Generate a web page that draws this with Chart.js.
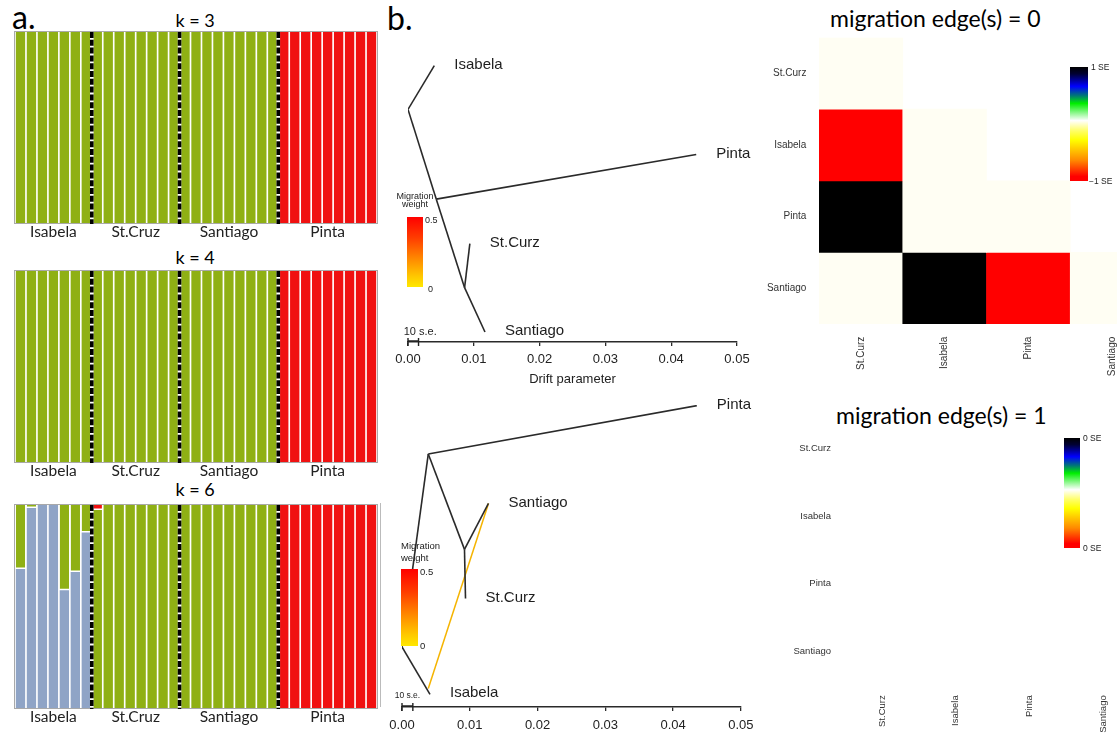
<!DOCTYPE html>
<html>
<head>
<meta charset="utf-8">
<script src="https://cdn.jsdelivr.net/npm/chart.js@4.4.1/dist/chart.umd.min.js"></script>
<style>
body{margin:0;width:1117px;height:734px;overflow:hidden;background:#fff;position:relative;font-family:Lato,sans-serif;}
canvas{position:absolute;}
.t{position:absolute;white-space:nowrap;color:#000;}
.lab{position:absolute;white-space:nowrap;font-family:'Liberation Sans',Arial,sans-serif;color:#222;}
.mig{position:absolute;background:linear-gradient(to bottom,#ff0000 0%,#ff3d00 30%,#ff8a00 60%,#ffc800 85%,#ffe800 100%);}
.se{position:absolute;background:linear-gradient(to bottom,#000000 0%,#000033 6%,#0000ff 17%,#007777 25%,#00ee00 32%,#ffffff 47%,#ffff66 56%,#ffff00 64%,#ff8800 82%,#ff0000 96%,#ff0000 100%);}
</style>
</head>
<body>

<div class="t" style="left:12px;top:1px;font-size:32px;line-height:32px;">a.</div>
<div class="t" style="left:387px;top:2px;font-size:32px;line-height:32px;">b.</div>

<div class="t" style="left:145px;width:100px;text-align:center;top:11px;font-size:18px;line-height:18px;">k = 3</div>
<div class="t" style="left:145px;width:100px;text-align:center;top:248px;font-size:18px;line-height:18px;">k = 4</div>
<div class="t" style="left:145px;width:100px;text-align:center;top:480px;font-size:18px;line-height:18px;">k = 6</div>

<canvas id="k3" width="390" height="215" style="left:0;top:28px;"></canvas>
<canvas id="k4" width="390" height="215" style="left:0;top:267px;"></canvas>
<canvas id="k6" width="390" height="227" style="left:0;top:501px;"></canvas>

<div style="position:absolute;left:380px;top:503px;width:1px;height:204px;background:#bbb;"></div>
<canvas id="tree0" width="380" height="362" style="left:380px;top:30px;"></canvas>
<canvas id="tree1" width="380" height="339" style="left:380px;top:395px;"></canvas>

<!-- migration weight keys -->
<div class="lab" style="left:390px;width:50px;text-align:center;top:192px;font-size:9px;line-height:8px;">Migration<br>weight</div>
<div class="mig" style="left:407px;top:217px;width:16px;height:70px;"></div>
<div class="lab" style="left:425px;top:215px;font-size:9px;line-height:10px;">0.5</div>
<div class="lab" style="left:428px;top:284px;font-size:9px;line-height:10px;">0</div>

<div class="lab" style="left:401px;top:540px;font-size:9.5px;line-height:11.5px;">Migration<br>weight</div>
<div class="mig" style="left:401px;top:569px;width:17px;height:77px;"></div>
<div class="lab" style="left:420px;top:567px;font-size:9.5px;line-height:10px;">0.5</div>
<div class="lab" style="left:420px;top:641px;font-size:9.5px;line-height:10px;">0</div>

<div class="t" style="left:830px;width:200px;text-align:center;top:7px;font-size:23px;line-height:22px;">migration edge(s) = 0</div>
<div class="t" style="left:836px;width:200px;text-align:center;top:404px;font-size:23px;line-height:22px;">migration edge(s) = 1</div>

<canvas id="resid0" width="414" height="365" style="left:740px;top:19px;"></canvas>
<canvas id="resid1" width="380" height="340" style="left:760px;top:395px;"></canvas>

<div class="se" style="left:1070px;top:67px;width:18px;height:114px;"></div>
<div class="lab" style="left:1091px;top:62px;font-size:8.5px;line-height:10px;">1 SE</div>
<div class="lab" style="left:1089px;top:176px;font-size:8.5px;line-height:10px;">−1 SE</div>
<div class="se" style="left:1064px;top:438px;width:16px;height:110px;"></div>
<div class="lab" style="left:1083px;top:433px;font-size:8.5px;line-height:10px;">0 SE</div>
<div class="lab" style="left:1083px;top:543px;font-size:8.5px;line-height:10px;">0 SE</div>

<script>
Chart.defaults.animation = false;
Chart.defaults.font.family = "'Liberation Sans', Arial, sans-serif";
Chart.defaults.plugins.legend.display = false;
Chart.defaults.plugins.tooltip.enabled = false;

// ---------------- DATA: structure plots ----------------

const groupNames = ["Isabela", "St.Cruz", "Santiago", "Pinta"];
const groupSizes = [7, 8, 9, 9];

const k3Green = [1,1,1,1,1,1,1, 1,1,1,1,1,1,1,1, 1,1,1,1,1,1,1,1,1, 0,0,0,0,0,0,0,0,0];
const k3Red   = [0,0,0,0,0,0,0, 0,0,0,0,0,0,0,0, 0,0,0,0,0,0,0,0,0, 1,1,1,1,1,1,1,1,1];

const k4Green = [1,1,1,1,1,1,1, 1,1,1,1,1,1,1,1, 1,1,1,1,1,1,1,1,1, 0,0,0,0,0,0,0,0,0];
const k4Red   = [0,0,0,0,0,0,0, 0,0,0,0,0,0,0,0, 0,0,0,0,0,0,0,0,0, 1,1,1,1,1,1,1,1,1];

const k6Blue  = [0.685,0.985,1,1,0.58,0.67,0.865, 0,0,0,0,0,0,0,0, 0,0,0,0,0,0,0,0,0, 0,0,0,0,0,0,0,0,0];
const k6Green = [0.315,0.015,0,0,0.42,0.33,0.135, 0.975,1,1,1,1,1,1,1, 1,1,1,1,1,1,1,1,1, 0,0,0,0,0,0,0,0,0];
const k6Red   = [0,0,0,0,0,0,0, 0.025,0,0,0,0,0,0,0, 0,0,0,0,0,0,0,0,0, 1,1,1,1,1,1,1,1,1];

// ---------------- DATA: treemix trees ----------------

const tree0Names = ["root", "Isabela", "", "Pinta", "", "St.Curz", "Santiago"];
const tree0Drift = [0.0000, 0.0040, 0.0043, 0.0438, 0.0086, 0.0094, 0.0117];
const tree0Pos   = [0.770, 0.915, 0.473, 0.621, 0.180, 0.326, 0.033];
const tree0Edges = [[0,1],[0,2],[2,3],[2,4],[4,5],[4,6]];

const tree1Names = ["root", "", "Pinta", "", "Santiago", "St.Curz", "Isabela"];
const tree1Drift = [0.0000, 0.00388, 0.0435, 0.00922, 0.01276, 0.00937, 0.00413];
const tree1Pos   = [0.199, 0.838, 0.998, 0.522, 0.674, 0.359, 0.042];
const tree1Edges = [[0,1],[1,2],[1,3],[3,4],[3,5],[0,6]];
const tree1MigFrom = [0.00388, 0.061];   // drift, position on the Isabela branch
const tree1MigTo = 4;                     // Santiago
const migColor = "#f5b400";

const driftTicks = [0, 0.01, 0.02, 0.03, 0.04, 0.05];
const seLength = 0.0016;                  // 10 s.e. in drift units

// ---------------- DATA: residual matrices ----------------

const hmRows = ["St.Curz", "Isabela", "Pinta", "Santiago"];
const hmCols = ["St.Curz", "Isabela", "Pinta", "Santiago"];
const resid0 = [[0], [-1, 0], [1, 0, 0], [0, 1, -1, 0]];
const resid1 = [[0], [0, 0], [0, 0, 0], [0, 0, 0, 0]];
const resid0SE = 1;
const resid1SE = 0;


// ---------------- STRUCTURE PLOTS ----------------

const sampleLabels = [];
groupNames.forEach((g, gi) => {
    for (let i = 0; i < groupSizes[gi]; i++) sampleLabels.push(g + " " + (i + 1));
});

const structureFrame = {
    id: "structureFrame",
    afterDatasetsDraw(chart){
        const {ctx, chartArea: a} = chart;
        const sx = chart.scales.x2;
        ctx.save();
        ctx.strokeStyle = "#a9a9a9";
        ctx.lineWidth = 1;
        ctx.strokeRect(a.left - 0.5, a.top - 0.5, a.width + 1, a.height + 1);
        let edge = 0;
        groupSizes.slice(0, -1).forEach(n => {
            edge += n;
            const px = sx.getPixelForValue(edge - 0.5);
            ctx.lineWidth = 3.6;
            ctx.setLineDash([]);
            ctx.strokeStyle = "#fff";
            ctx.beginPath(); ctx.moveTo(px, a.top); ctx.lineTo(px, a.bottom + 1); ctx.stroke();
            ctx.setLineDash([6, 1.8]);
            ctx.strokeStyle = "#000";
            ctx.beginPath(); ctx.moveTo(px, a.top); ctx.lineTo(px, a.bottom + 1); ctx.stroke();
        });
        ctx.restore();
    }
};

function makeStructure(id, series, padTop){

    const datasets = series.map(s => ({
        data: s.data,
        backgroundColor: s.color,
        borderColor: "#fff",
        borderSkipped: false,
        borderWidth: s.gapBelow ? (c => (s.gapBelow[c.dataIndex] > 0 ? {top:0,left:0,right:0,bottom:1.5} : 0)) : 0
    }));

    new Chart(document.getElementById(id), {
        type: "bar",
        data: { labels: sampleLabels, datasets },
        options: {
            responsive: false,
            barPercentage: 1,
            categoryPercentage: 0.85,
            layout: { padding: { left: 15, right: 13, top: padTop, bottom: 0 } },
            scales: {
                x: { stacked: true, display: false },
                y: { stacked: true, display: false, min: 0, max: 1 },
                x2: {
                    type: "linear",
                    position: "bottom",
                    offset: false,
                    min: -0.5,
                    max: sampleLabels.length - 0.5,
                    grid: { display: false, drawTicks: false, offset: false },
                    border: { display: false },
                    afterBuildTicks: s => {
                        let start = 0;
                        s.ticks = groupSizes.map(n => {
                            const v = start + (n - 1) / 2;
                            start += n;
                            return { value: v };
                        });
                    },
                    afterFit: s => { s.height = 20; },
                    ticks: {
                        padding: 0,
                        color: "#222",
                        font: { family: "Lato", size: 15.5 },
                        callback: (v, i) => groupNames[i]
                    }
                }
            }
        },
        plugins: [structureFrame]
    });
}

const GREEN = "#8fb014";
const RED = "#f01111";
const BLUE = "#8fa4c6";

makeStructure("k3", [
    { data: k3Green, color: GREEN },
    { data: k3Red, color: RED }
], 4);

makeStructure("k4", [
    { data: k4Green, color: GREEN },
    { data: k4Red, color: RED }
], 4);

makeStructure("k6", [
    { data: k6Blue, color: BLUE },
    { data: k6Green, color: GREEN, gapBelow: k6Blue },
    { data: k6Red, color: RED, gapBelow: k6Green }
], 4);


// ---------------- TREEMIX TREES ----------------

const treeMarks = {
    id: "treeMarks",
    afterDatasetsDraw(chart, args, opts){
        const {ctx} = chart;
        const sx = chart.scales.x, sy = chart.scales.y;
        ctx.save();
        // tip labels
        ctx.fillStyle = "#1e1e1e";
        ctx.font = "15px 'Liberation Sans', Arial, sans-serif";
        ctx.textBaseline = "middle";
        ctx.textAlign = "left";
        opts.names.forEach((n, i) => {
            if (!n || n === "root") return;
            ctx.fillText(n, sx.getPixelForValue(opts.drift[i]) + 20, sy.getPixelForValue(opts.pos[i]) - 1);
        });
        // 10 s.e. bar
        const y0 = sy.bottom;
        const x0 = sx.getPixelForValue(0), x1 = sx.getPixelForValue(seLength);
        ctx.strokeStyle = "#222";
        ctx.lineWidth = 1.4;
        ctx.beginPath();
        ctx.moveTo(x0, y0 - 4); ctx.lineTo(x0, y0 + 4);
        ctx.moveTo(x1, y0 - 4); ctx.lineTo(x1, y0 + 4);
        ctx.moveTo(x0, y0 - 1); ctx.lineTo(x1, y0 - 1);
        ctx.stroke();
        ctx.font = opts.seFont + "px 'Liberation Sans', Arial, sans-serif";
        ctx.textAlign = "center";
        ctx.fillText("10 s.e.", (x0 + x1) / 2 + opts.seShift, y0 - opts.seRaise);
        ctx.restore();
    }
};

function edgeSets(drift, pos, edges){
    return edges.map(([a, b]) => ({
        data: [{ x: drift[a], y: pos[a] }, { x: drift[b], y: pos[b] }],
        showLine: true,
        borderColor: "#2a2a2a",
        borderWidth: 1.6,
        pointRadius: 0
    }));
}

function makeTree(id, datasets, o){
    new Chart(document.getElementById(id), {
        type: "scatter",
        data: { datasets },
        options: {
            responsive: false,
            layout: { padding: o.padding },
            plugins: {
                treeMarks: { names: o.names, drift: o.drift, pos: o.pos, seFont: o.seFont, seShift: o.seShift, seRaise: o.seRaise }
            },
            scales: {
                y: { min: 0, max: 1, display: false },
                x: {
                    min: 0,
                    max: 0.05,
                    afterBuildTicks: s => { s.ticks = driftTicks.map(v => ({ value: v })); },
                    afterFit: s => { s.height = o.axisH; },
                    grid: { drawOnChartArea: false, drawTicks: true, tickLength: 4, color: "#2a2a2a", lineWidth: 1.3 },
                    border: { display: true, color: "#2a2a2a", width: 1.4 },
                    ticks: { padding: o.tickPad, color: "#222", font: { size: 13 }, callback: v => v.toFixed(2) },
                    title: { display: o.title !== "", text: o.title, color: "#222", font: { size: 13 }, padding: { top: 4, bottom: 0 } }
                }
            }
        },
        plugins: [treeMarks]
    });
}

makeTree("tree0", edgeSets(tree0Drift, tree0Pos, tree0Edges), {
    padding: { left: 28, right: 23, top: 10, bottom: 5 },
    axisH: 45,
    tickPad: 6,
    title: "Drift parameter",
    names: tree0Names, drift: tree0Drift, pos: tree0Pos,
    seFont: 11, seShift: 7, seRaise: 10
});

const tree1Sets = edgeSets(tree1Drift, tree1Pos, tree1Edges);
tree1Sets.push({
    data: [{ x: tree1MigFrom[0], y: tree1MigFrom[1] }, { x: tree1Drift[tree1MigTo], y: tree1Pos[tree1MigTo] }],
    showLine: true,
    borderColor: migColor,
    borderWidth: 1.5,
    pointRadius: 0
});

makeTree("tree1", tree1Sets, {
    padding: { left: 22, right: 15, top: 10, bottom: 1 },
    axisH: 26,
    tickPad: 6.5,
    title: "",
    names: tree1Names, drift: tree1Drift, pos: tree1Pos,
    seFont: 8.5, seShift: 0, seRaise: 11
});


// ---------------- RESIDUAL HEATMAPS ----------------

const hmStops = [[-1, [255,0,0]], [-0.66, [255,140,0]], [-0.33, [255,255,0]], [0, [255,254,243]], [0.33, [0,230,0]], [0.66, [0,0,255]], [1, [0,0,0]]];

function residColor(v, se){
    if (se === 0) return "rgba(255,255,255,0)";
    const t = Math.max(-1, Math.min(1, v / se));
    for (let i = 1; i < hmStops.length; i++) {
        const [t0, c0] = hmStops[i - 1], [t1, c1] = hmStops[i];
        if (t <= t1) {
            const f = (t - t0) / (t1 - t0);
            const c = c0.map((c, k) => Math.round(c + (c1[k] - c) * f));
            return `rgb(${c[0]},${c[1]},${c[2]})`;
        }
    }
    return "#000";
}

function makeResid(id, resid, se, o){

    const datasets = hmRows.map((row, i) => ({
        label: row,
        grouped: false,
        data: hmCols.map((c, j) => (j <= i ? [i - 0.5, i + 0.5] : null)),
        backgroundColor: hmCols.map((c, j) => (j <= i ? residColor(resid[i][j], se) : "rgba(0,0,0,0)")),
        borderWidth: 0
    }));

    new Chart(document.getElementById(id), {
        type: "bar",
        data: { labels: hmCols, datasets },
        options: {
            responsive: false,
            barPercentage: 1,
            categoryPercentage: 1,
            layout: { padding: { top: o.padTop, left: 0, right: 0, bottom: 0 } },
            scales: {
                x: {
                    grid: { display: false, drawTicks: false },
                    border: { display: false },
                    afterFit: s => { s.height = o.xH; },
                    ticks: { autoSkip: false, maxRotation: 90, minRotation: 90, padding: o.xPad, color: "#333", font: { size: o.font } }
                },
                y: {
                    min: -0.5,
                    max: hmRows.length - 0.5,
                    reverse: true,
                    grid: { display: false, drawTicks: false },
                    border: { display: false },
                    afterBuildTicks: s => { s.ticks = hmRows.map((r, i) => ({ value: i })); },
                    afterFit: s => { s.width = o.yW; },
                    ticks: { padding: o.yPad, color: "#333", font: { size: o.font }, callback: v => hmRows[v] }
                }
            }
        }
    });
}

makeResid("resid0", resid0, resid0SE, { padTop: 0, xH: 60, xPad: 12.7, yW: 79, yPad: 12.6, font: 10 });
makeResid("resid1", resid1, resid1SE, { padTop: 0, xH: 50, xPad: 10.3, yW: 85, yPad: 14, font: 9.5 });
</script>
</body>
</html>
